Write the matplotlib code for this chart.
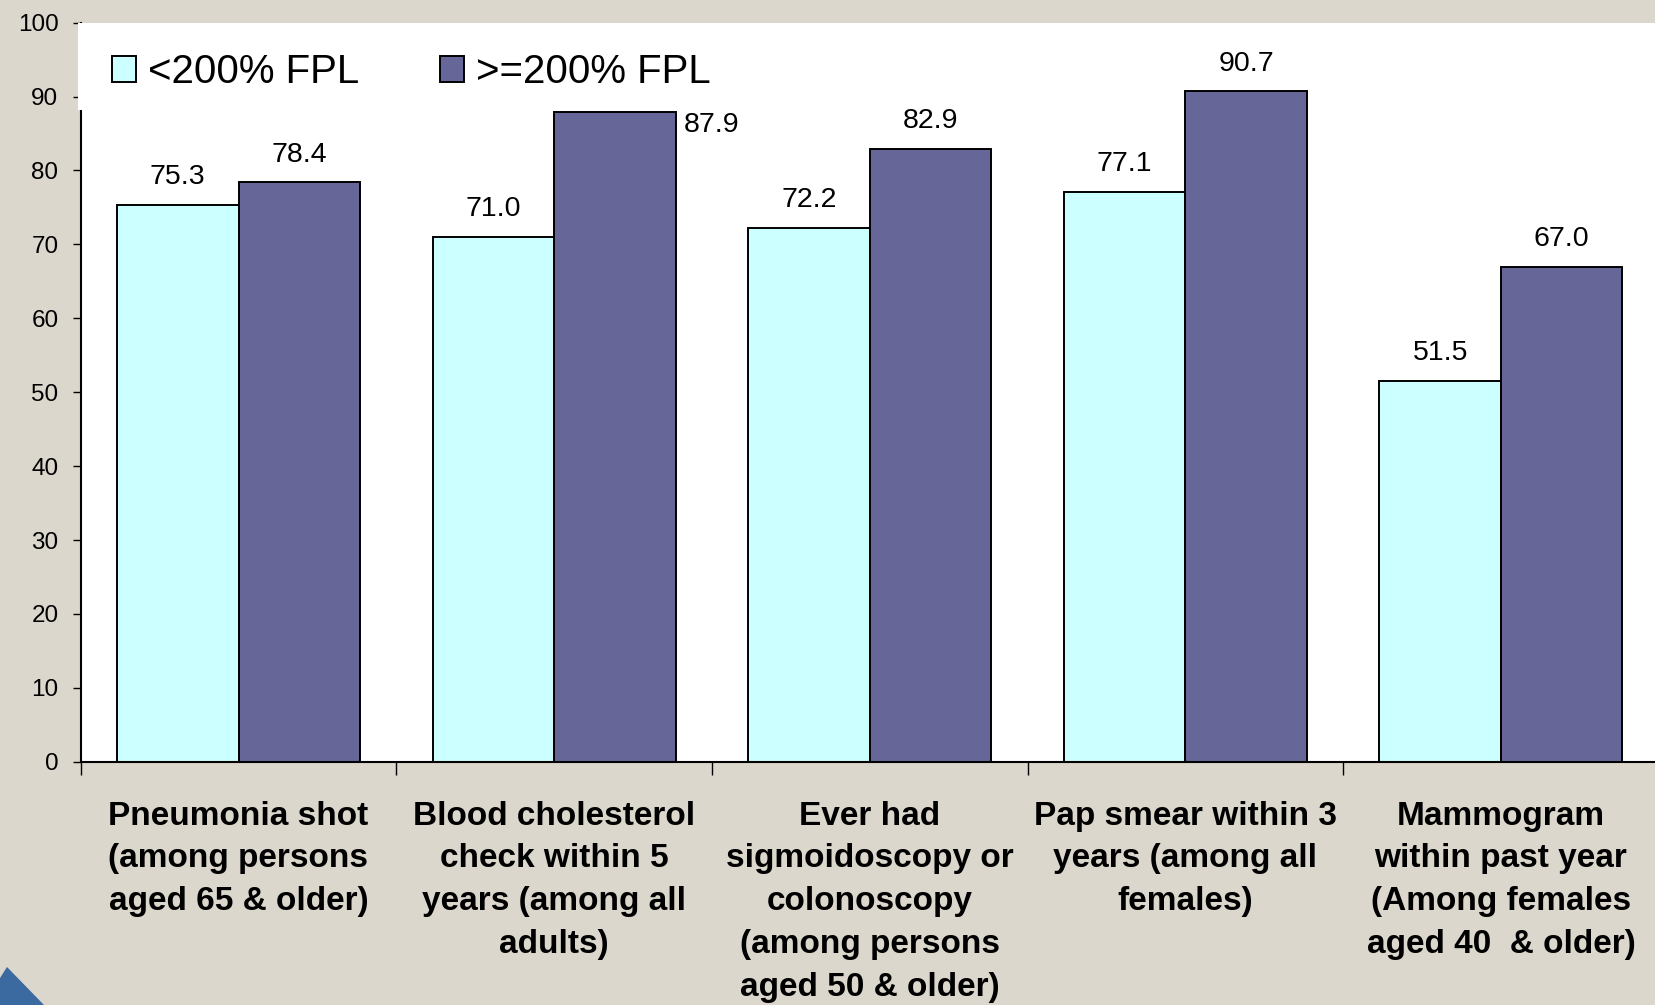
import numpy as np
import matplotlib.pyplot as plt
from matplotlib.patches import Rectangle, Polygon

plt.rcParams["font.family"] = ["Liberation Sans", "DejaVu Sans"]

# preventive service use by income level (percent)
categories = [
    "Pneumonia shot\n(among persons\naged 65 & older)",
    "Blood cholesterol\ncheck within 5\nyears (among all\nadults)",
    "Ever had\nsigmoidoscopy or\ncolonoscopy\n(among persons\naged 50 & older)",
    "Pap smear within 3\nyears (among all\nfemales)",
    "Mammogram\nwithin past year\n(Among females\naged 40  & older)",
]
low_income = [75.3, 71.0, 72.2, 77.1, 51.5]
high_income = [78.4, 87.9, 82.9, 90.7, 67.0]
series_names = ["<200% FPL", ">=200% FPL"]

bg = "#DBD7CD"
fig = plt.figure(figsize=(16.55, 10.05), dpi=100, facecolor=bg)
ax = fig.add_axes([80.7 / 1655, 1 - 761.7 / 1005, 1578 / 1655, 739 / 1005])
ax.set_facecolor("white")

x = np.arange(len(categories))
w = 0.385
b1 = ax.bar(x - w / 2, low_income, w, color="#CCFFFF", edgecolor="black",
            linewidth=1.4, label=series_names[0])
b2 = ax.bar(x + w / 2, high_income, w, color="#666699", edgecolor="black",
            linewidth=1.4, label=series_names[1])

# value labels above bars; the 87.9 one sits beside its bar
for rect, v in zip(list(b1) + list(b2), low_income + high_income):
    cx = rect.get_x() + rect.get_width() / 2
    if v == 87.9:
        ax.annotate(f"{v:.1f}", (rect.get_x() + rect.get_width(), v),
                    xytext=(6, -9), textcoords="offset points",
                    ha="left", va="center", fontsize=20.5)
    else:
        ax.annotate(f"{v:.1f}", (cx, v), xytext=(0, 20),
                    textcoords="offset points", ha="center", va="center",
                    fontsize=20.5)

ax.set_xlim(-0.5, 4.5)
ax.set_ylim(0, 100)
ax.set_yticks(range(0, 101, 10))
ax.tick_params(axis="y", direction="out", length=6, width=1, pad=10,
               labelsize=17.5)

ax.set_xticks(x)
ax.set_xticklabels(categories, fontsize=24, fontweight="bold", linespacing=1.49)
ax.tick_params(axis="x", length=0, pad=28)
ax.set_xticks(np.arange(-0.5, 5, 1), minor=True)
ax.tick_params(axis="x", which="minor", direction="out", length=9, width=1)

for s in ["top", "right"]:
    ax.spines[s].set_visible(False)
for s in ["left", "bottom"]:
    ax.spines[s].set_linewidth(1.5)

# white block behind the legend hides the top of the y axis
ax.add_patch(Rectangle((78 / 1655, 1 - 110 / 1005), 120 / 1655, 87.3 / 1005,
                       transform=fig.transFigure, facecolor="white",
                       edgecolor="none", zorder=3, clip_on=False))

leg = ax.legend(loc="upper left", bbox_to_anchor=(112 / 1655, 1 - 53 / 1005),
                bbox_transform=fig.transFigure, ncol=2, frameon=False,
                fontsize=29, handlelength=0.6, handleheight=0.6,
                handletextpad=0.3, columnspacing=2.0, borderpad=0,
                borderaxespad=0)
leg.set_zorder(4)

# corner logo fragment
fig.patches.append(Polygon([(0, 1 - 978 / 1005), (7 / 1655, 1 - 967 / 1005),
                            (44 / 1655, 0), (0, 0)], closed=True,
                           transform=fig.transFigure, facecolor="#3A6AA0",
                           edgecolor="none"))

fig.savefig("out.png", dpi=100, facecolor=bg)
